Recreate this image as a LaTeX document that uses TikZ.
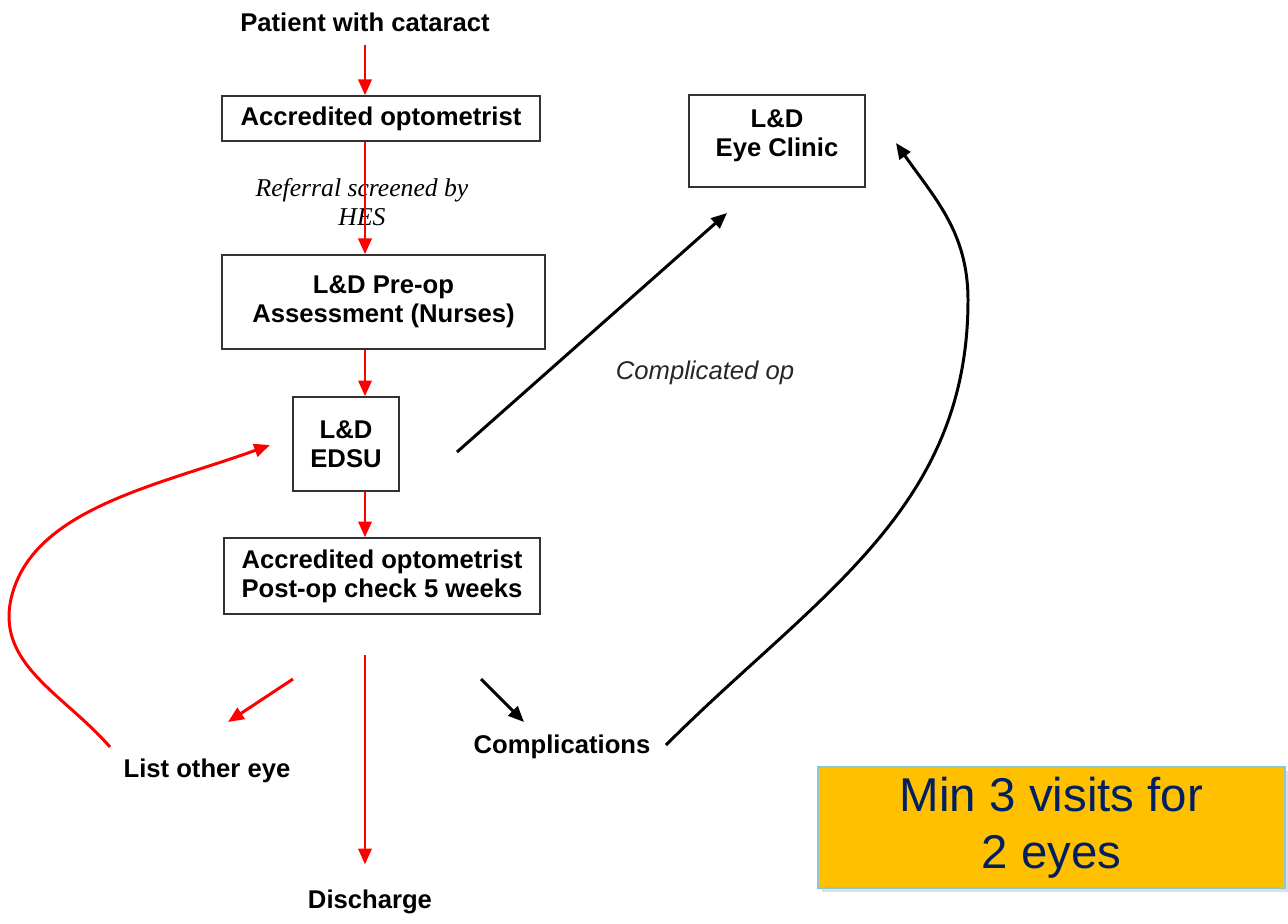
\documentclass[tikz,border=0pt]{standalone}
\usepackage{fontspec}
\setmainfont{Liberation Sans}
\newfontfamily\refserif{Liberation Serif}
\usetikzlibrary{arrows.meta,shadows}

\definecolor{flowred}{RGB}{255,0,0}
\definecolor{notefill}{RGB}{255,192,0}
\definecolor{noteedge}{RGB}{140,200,212}
\definecolor{notetext}{RGB}{0,32,96}

\begin{document}
\begin{tikzpicture}[
  x=0.02cm, y=0.02cm,
  stage/.style     = {draw=black!80, line width=0.8pt, inner sep=0pt, align=center,
                      font=\bfseries\fontsize{14.6}{16.5}\selectfont},
  plain/.style     = {align=center, font=\bfseries\fontsize{14.6}{16.5}\selectfont},
  aside/.style     = {align=center, font=\itshape\fontsize{14.6}{16.5}\selectfont},
  note/.style      = {fill=notefill, draw=noteedge, line width=1.2pt, align=center,
                      text=notetext, font=\fontsize{27}{32.3}\selectfont,
                      drop shadow={opacity=0.25, shadow xshift=2pt, shadow yshift=-2pt}},
  redflow/.style   = {draw=flowred, line width=1.7pt, -{Triangle[length=9pt,width=7.5pt]}},
  blackflow/.style = {draw=black, line width=1.7pt, -{Triangle[length=9pt,width=7.5pt]}},
]
  \useasboundingbox (0,0) rectangle (1288,-923);

  % the pathway down the left
  \node[plain] (patient) at (365,-22) {Patient with cataract};
  \node[stage, minimum width=6.36cm, minimum height=0.9cm] (optom) at (381,-118.5)
    {Accredited optometrist};
  \node[aside, font=\refserif\itshape\fontsize{14.6}{16.5}\selectfont] (referral) at (362,-202)
    {Referral screened by\\HES};
  \node[stage, minimum width=6.46cm, minimum height=1.88cm] (preop) at (383.5,-302)
    {L\&D Pre-op\\Assessment (Nurses)};
  \node[stage, minimum width=2.12cm, minimum height=1.88cm] (edsu) at (346,-444)
    {L\&D\\EDSU};
  \node[stage, minimum width=6.32cm, minimum height=1.52cm] (postop) at (382,-576)
    {Accredited optometrist\\Post-op check 5 weeks};

  % outcomes after the check
  \node[plain] (list) at (207,-771) {List other eye};
  \node[plain] (complications) at (562,-747) {Complications};
  \node[plain] (discharge) at (370,-902) {Discharge};

  % the clinic, text sits high in the box
  \node[stage, minimum width=3.52cm, minimum height=1.84cm,
        label={[plain, anchor=north, yshift=-5pt]north:{L\&D\\Eye Clinic}}] (clinic) at (777,-141) {};
  \node[aside, text=black!85] (compop) at (705,-373) {Complicated op};

  \node[note, minimum width=9.34cm, minimum height=2.42cm] (visits) at (1051.5,-827.5)
    {Min 3 visits for\\2 eyes};

  % free ends of the connectors
  \coordinate (fork-l)     at (293,-679);
  \coordinate (list-in)    at (228,-722);
  \coordinate (fork-c)     at (481,-679);
  \coordinate (comp-in)    at (524,-722);
  \coordinate (again-out)  at (110,-747);
  \coordinate (again-in)   at (270,-445);
  \coordinate (op-out)     at (457,-452);
  \coordinate (clinic-in)  at (727,-213);
  \coordinate (comp-out)   at (666,-745);
  \coordinate (clinic-back) at (896,-143);

  \draw[redflow, shorten <=4pt] (patient.south) -- (patient.south |- optom.north);
  \draw[redflow] (optom.south -| patient) -- (preop.north -| patient);
  \draw[redflow] (preop.south -| patient) -- (edsu.north -| patient);
  \draw[redflow] (edsu.south -| patient) -- (postop.north -| patient);
  \draw[redflow, shorten <=23pt, shorten >=11pt] (postop.south -| patient) -- (patient |- discharge.north);
  \draw[redflow] (fork-l) -- (list-in);
  \draw[redflow] (again-out) to[out=131, in=-105] (12,-595)
    .. controls (35,-508) and (160,-485) .. (again-in);

  \draw[blackflow] (fork-c) -- (comp-in);
  \draw[blackflow] (op-out) -- (clinic-in);
  \draw[blackflow] (comp-out) to[out=45, in=-90] (968,-300) to[out=90, in=-55] (clinic-back);
\end{tikzpicture}
\end{document}
